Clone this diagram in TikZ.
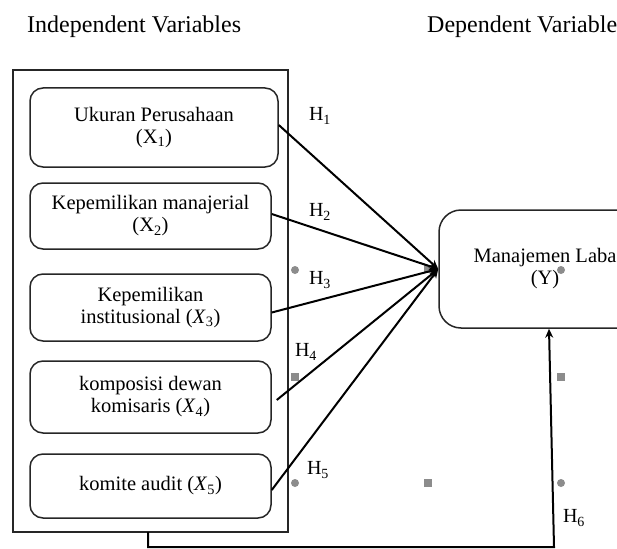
\documentclass[tikz,border=0pt]{standalone}
\usepackage{fontspec}
\setmainfont{Liberation Serif}
\usetikzlibrary{arrows.meta}
\definecolor{mkgray}{HTML}{8C8C8C}
\tikzset{
  varbox/.style={draw=black!85, line width=1.5pt, rounded corners=13pt, align=center, inner sep=0pt,
    font=\fontsize{20.5}{22}\selectfont},
  headtext/.style={font=\fontsize{24}{26}\selectfont, inner sep=0pt},
  hlabel/.style={font=\fontsize{20}{22}\selectfont, inner sep=0pt},
  conn/.style={line width=2pt, -{Stealth[length=9pt,width=8pt]}},
}
\begin{document}
\begin{tikzpicture}[x=1pt,y=-1pt]
\useasboundingbox (0,0) rectangle (617,548);
\clip (0,0) rectangle (617,548);
% headings
\node[headtext, anchor=west] (hi) at (27,27) {Independent Variables};
\node[headtext, anchor=west] (hd) at (427,27) {Dependent Variable};
% outer frame
\node[draw=black!85, line width=1.5pt, minimum width=275pt, minimum height=462pt, inner sep=0pt] (frame) at (150.5,301) {};
% boxes
\node[varbox, minimum width=248pt, minimum height=79pt] (b1) at (154,127.5) {Ukuran Perusahaan\\(X\textsubscript{1})};
\node[varbox, minimum width=241pt, minimum height=66pt] (b2) at (150.5,216) {Kepemilikan manajerial\\(X\textsubscript{2})};
\node[varbox, minimum width=241pt, minimum height=67pt] (b3) at (150.5,307.5) {Kepemilikan\\institusional (\textit{X}\textsubscript{3})};
\node[varbox, minimum width=241pt, minimum height=72pt] (b4) at (150.5,397) {komposisi dewan\\komisaris (\textit{X}\textsubscript{4})};
\node[varbox, minimum width=241pt, minimum height=64pt] (b5) at (150.5,486) {komite audit (\textit{X}\textsubscript{5})};
\node[varbox, rounded corners=22pt, minimum width=212pt, minimum height=118pt] (y) at (545,269) {Manajemen Laba\\(Y)};
% gray markers
\fill[mkgray] (295,270) circle (4);
\fill[mkgray] (561,270) circle (4);
\fill[mkgray] (295,483) circle (4);
\fill[mkgray] (561,483) circle (4);
\fill[mkgray] (291,373) rectangle (299,381);
\fill[mkgray] (557,373) rectangle (565,381);
\fill[mkgray] (424,479) rectangle (432,487);
\fill[mkgray] (424,265) rectangle (432,273);
% connectors
\draw[conn] ([yshift=2.5pt]b1.east) -- (y.west);
\draw[conn] ([yshift=2pt]b2.east) -- (y.west);
\draw[conn] ([yshift=-5pt]b3.east) -- (y.west);
\draw[conn] ([xshift=5pt,yshift=-3pt]b4.east) -- (y.west);
\draw[conn] ([yshift=-4pt]b5.east) -- (y.west);
% feedback
\coordinate (f0) at (148,532);
\coordinate (f1) at (148,547);
\coordinate (f2) at (554,547);
\draw[line width=2pt, -{Stealth[length=9pt,width=8pt]}] (f0) -- (f1) -- (f2) -- ([xshift=4pt]y.south);
% labels
\node[hlabel] (h1) at (320,116) {H\textsubscript{1}};
\node[hlabel] (h2) at (320,212) {H\textsubscript{2}};
\node[hlabel] (h3) at (320,280) {H\textsubscript{3}};
\node[hlabel] (h4) at (306,352) {H\textsubscript{4}};
\node[hlabel] (h5) at (318,470) {H\textsubscript{5}};
\node[hlabel] (h6) at (574,518) {H\textsubscript{6}};
\end{tikzpicture}
\end{document}
